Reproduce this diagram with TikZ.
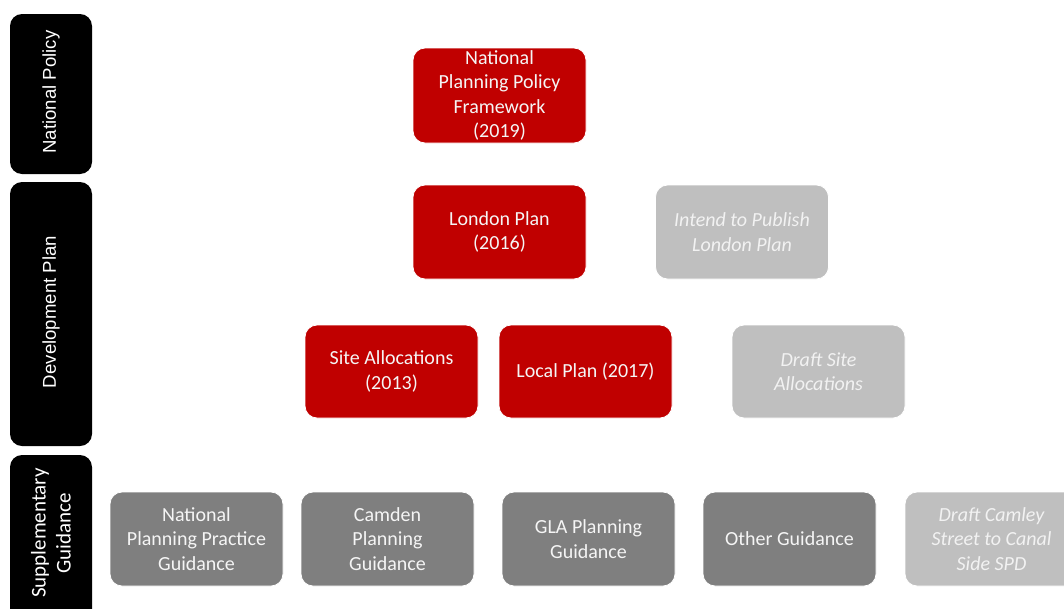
\documentclass[tikz,border=0pt]{standalone}
\usepackage{fontspec}
\setmainfont{Carlito}
\newfontfamily\barfont{Liberation Sans}
\definecolor{planred}{HTML}{C00000}
\definecolor{guidegrey}{HTML}{7F7F7F}
\definecolor{draftgrey}{HTML}{BFBFBF}
\begin{document}
\begin{tikzpicture}[x=1pt,y=-1pt,
  tierbar/.style={fill=black,rounded corners=12pt},
  tierlabel/.style={text=white,rotate=90,align=center,font=\barfont\fontsize{18.6}{22}\selectfont},
  docbox/.style={rounded corners=12pt,draw=white,line width=0.8pt,minimum width=173pt,minimum height=94pt,
    align=center,text=white!96!black,inner sep=0pt,font=\fontsize{20}{24.3}\selectfont},
  adopted/.style={docbox,fill=planred},
  guidance/.style={docbox,fill=guidegrey},
  draft/.style={docbox,fill=draftgrey,text=white!95!black,font=\fontsize{20}{24.3}\selectfont\itshape}]
\useasboundingbox (0,0) rectangle (1064,608);
\clip (0,0) rectangle (1064,608);
% tier bars on the left
\fill[tierbar] (10,14) rectangle (92,174);
\fill[tierbar] (10,182) rectangle (92,446);
\fill[tierbar] (10,455) rectangle (92,630);
\node[tierlabel] (tnat) at (51,92) {National Policy};
\node[tierlabel] (tdev) at (51,312) {Development Plan};
\node[tierlabel,font=\fontsize{21}{25}\selectfont] (tsup) at (51,533) {Supplementary\\Guidance};
% national policy
\node[adopted,minimum height=95pt] (nppf) at (499.5,95.5) {National\\Planning Policy\\Framework\\(2019)};
% development plan
\node[adopted] (lp) at (499.5,232) {London Plan\\(2016)};
\node[draft] (itp) at (742,232) {Intend to Publish\\London Plan};
\node[adopted,minimum height=93pt] (sa) at (391.5,371.5) {Site Allocations\\(2013)};
\node[adopted,minimum height=93pt] (local) at (585.5,371.5) {Local Plan (2017)};
\node[draft,minimum height=93pt] (dsa) at (818.5,371.5) {Draft Site\\Allocations};
% supplementary guidance
\node[guidance] (nppg) at (196.5,539) {National\\Planning Practice\\Guidance};
\node[guidance] (cpg) at (387.5,539) {Camden\\Planning\\Guidance};
\node[guidance] (gla) at (588.5,539) {GLA Planning\\Guidance};
\node[guidance] (other) at (789.5,539) {Other Guidance};
\node[draft] (camley) at (991.5,539) {Draft Camley\\Street to Canal\\Side SPD};
\end{tikzpicture}
\end{document}
